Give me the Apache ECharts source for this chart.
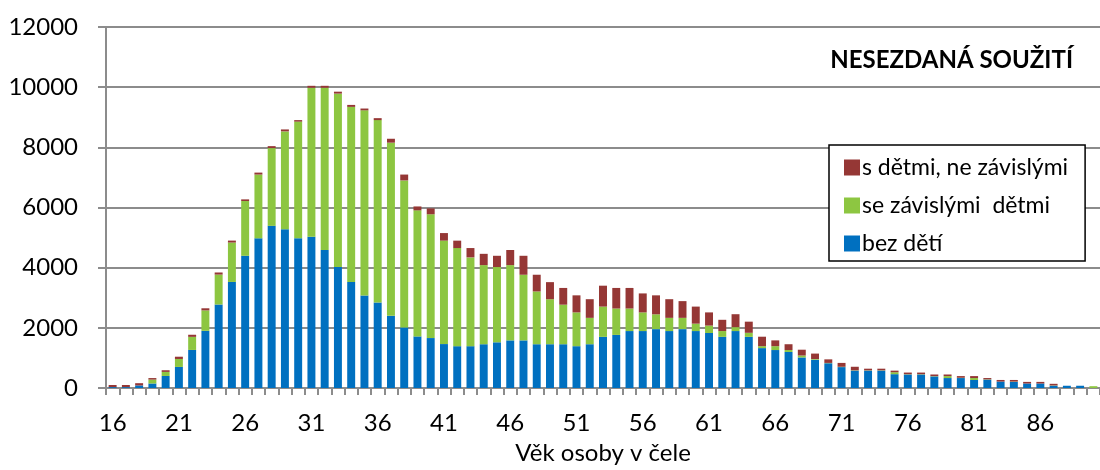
<!DOCTYPE html>
<html>
<head>
<meta charset="utf-8">
<script src="https://cdn.jsdelivr.net/npm/echarts@6/dist/echarts.min.js"></script>
<style>html,body{margin:0;padding:0;background:#fff}#c{width:1100px;height:470px}</style>
</head>
<body>
<div id="c"></div>
<script>
var ages = [];
for (var a = 16; a <= 90; a++) ages.push(String(a));

var bezDeti = [30,30,85,150,400,700,1265,1900,2775,3525,4395,4975,5390,5275,4975,5025,4590,4020,3525,3075,2840,2400,2015,1715,1660,
  1460,1390,1390,1455,1519,1583,1583,1455,1455,1455,1390,1455,1700,1765,1893,1893,1957,1893,1957,1893,1829,1700,1893,1700,
  1326,1262,1198,1016,941,823,695,577,577,577,460,449,449,385,331,331,267,278,214,203,150,150,75,75,75,0];
var seZavislymi = [0,0,0,130,135,265,435,680,995,1310,1820,2120,2585,3255,3880,4955,5390,5765,5820,6155,6065,5755,4885,4190,4115,
  3440,3262,2952,2630,2502,2502,2182,1754,1497,1315,1123,877,1006,877,749,620,492,439,375,246,246,193,130,135,
  64,128,64,64,22,11,11,11,10,10,64,10,10,10,65,10,64,10,0,10,0,0,10,0,0,60];
var nezavislymi = [70,70,75,50,55,75,70,70,70,65,55,65,65,65,50,65,65,65,65,60,65,130,195,130,195,
  250,246,310,375,374,503,630,556,567,556,567,620,695,684,684,631,631,620,556,567,438,374,430,370,
  315,193,193,193,181,118,128,118,55,55,53,54,54,54,53,55,65,43,53,54,53,53,54,0,0,0];

var yTicks = { min: 0, max: 12000, interval: 2000 };
var titleText = 'NESEZDANÁ SOUŽITÍ';
var xName = 'Věk osoby v čele';
var names = ['s dětmi, ne závislými', 'se závislými  dětmi', 'bez dětí'];

var FONT = 'Lato';
var chart = echarts.init(document.getElementById('c'), null, { renderer: 'canvas' });
chart.setOption({
  animation: false,
  textStyle: { fontFamily: FONT, color: '#000' },
  title: {
    text: titleText, right: 22, top: 43,
    textStyle: { fontFamily: FONT, fontWeight: 'bold', fontSize: 24, color: '#000' }
  },
  legend: {
    orient: 'vertical', left: 829, top: 145,
    data: names,
    itemWidth: 16, itemHeight: 16, itemGap: 15,
    padding: [11, 17, 6, 15],
    borderColor: '#000', borderWidth: 1.5, backgroundColor: '#fff',
    icon: 'rect',
    textStyle: { fontFamily: FONT, fontSize: 23, lineHeight: 20, color: '#000', padding: [0, 0, 0, -3] }
  },
  grid: { left: 106, right: -10, top: 27, bottom: 72, containLabel: false },
  xAxis: {
    type: 'category', data: ages, boundaryGap: true,
    name: xName, nameLocation: 'middle', nameGap: 53,
    nameTextStyle: { fontFamily: FONT, fontSize: 24, color: '#000' },
    axisLine: { lineStyle: { color: '#8c8c8c', width: 2 } },
    axisTick: { show: true, interval: 0, length: 7, lineStyle: { color: '#8c8c8c', width: 2 } },
    axisLabel: { interval: 4, fontSize: 24, color: '#000', margin: 23, fontFamily: FONT },
    splitLine: { show: false }
  },
  yAxis: {
    type: 'value', min: yTicks.min, max: yTicks.max, interval: yTicks.interval,
    axisLine: { show: true, lineStyle: { color: '#8c8c8c', width: 2 } },
    axisTick: { show: true, length: 8, lineStyle: { color: '#8c8c8c', width: 2 } },
    axisLabel: { fontSize: 24, color: '#000', margin: 28, fontFamily: FONT, formatter: function (v) { return String(v); } },
    splitLine: { show: true, lineStyle: { color: '#8c8c8c', width: 2 } }
  },
  series: [
    { name: names[2], type: 'bar', stack: 'a', data: bezDeti, barCategoryGap: '40%', itemStyle: { color: '#0070C0' } },
    { name: names[1], type: 'bar', stack: 'a', data: seZavislymi, itemStyle: { color: '#8DC641' } },
    { name: names[0], type: 'bar', stack: 'a', data: nezavislymi, itemStyle: { color: '#953735' } }
  ]
});
</script>
</body>
</html>
